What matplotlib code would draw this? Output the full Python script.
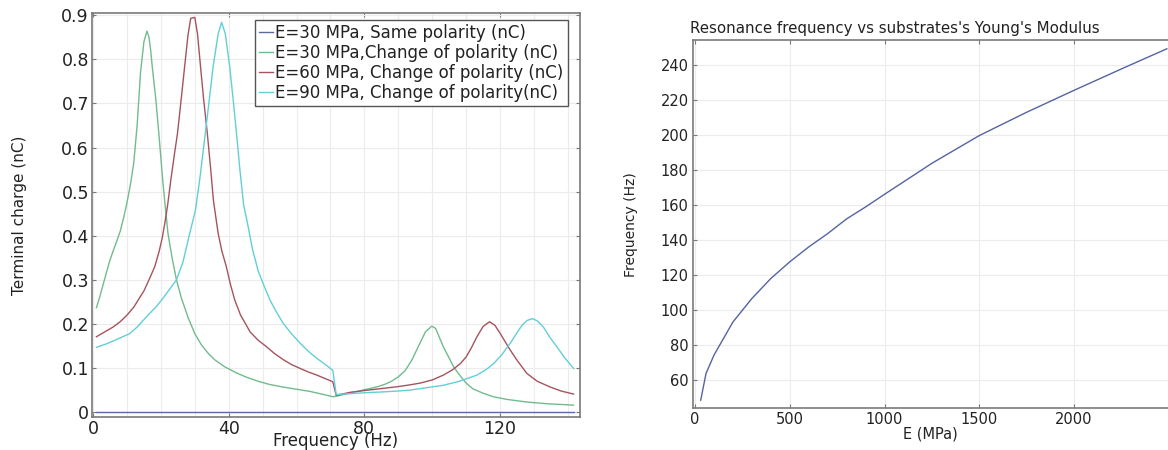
import matplotlib
matplotlib.use("Agg")
import matplotlib.pyplot as plt
from matplotlib.ticker import MultipleLocator

# ---------------- Data: left panel (Terminal charge vs frequency) ----------------
freq_same = [1, 141.7]
q_same = [0.0, 0.0]

freq_e30 = [1, 2, 3, 4, 5, 6, 7, 8, 9, 10, 11, 12, 13, 14, 15, 15.9, 16.5, 17, 17.5, 18.5,
            19.4, 20.5, 21.3, 22.1, 23.3, 24.6, 26, 28, 30, 32, 34, 36, 38.8, 42, 45, 48.7,
            52, 56, 60, 64, 68, 70.7,
            71.7, 74, 76, 78, 80, 82, 84, 86, 88, 90, 92, 94, 96, 98, 99.9, 101, 102, 103.3,
            105, 106.3, 108, 110, 112, 115, 118, 122, 127.9, 134, 141.7]
q_e30 = [0.237, 0.262, 0.29, 0.318, 0.345, 0.367, 0.388, 0.41, 0.44, 0.475, 0.515, 0.565,
         0.65, 0.77, 0.84, 0.864, 0.85, 0.82, 0.78, 0.71,
         0.632, 0.53, 0.465, 0.405, 0.35, 0.30, 0.26, 0.215, 0.178, 0.152, 0.133, 0.118,
         0.103, 0.09, 0.08, 0.07, 0.063, 0.057, 0.052, 0.047, 0.04, 0.035,
         0.036, 0.040, 0.044, 0.047, 0.051, 0.054, 0.058, 0.063, 0.07, 0.08, 0.094, 0.118,
         0.15, 0.182, 0.195, 0.19, 0.172, 0.148, 0.123, 0.103, 0.085, 0.066, 0.053, 0.043,
         0.035, 0.029, 0.023, 0.019, 0.016]

freq_e60 = [1, 3, 5.9, 8, 10, 12, 13.3, 15, 16.5, 18.2, 19.5, 20.4, 21.2, 22, 23, 24, 24.9,
            26, 27, 28, 28.8, 30, 30.8, 31.7, 32.6, 33.7, 34.7, 35.5, 36.9, 38, 39.3, 40.5,
            41.8, 43.5, 45, 46.3, 48.7, 51.2, 53.5, 56.1, 58.5, 61.1, 63.5, 66, 68.5, 70.7,
            71.7, 75.8, 80, 85.6, 90, 93.5, 96.5, 100, 103.3, 106, 108.3, 110, 111.5, 113.2,
            115, 116.9, 118.5, 120.1, 121.5, 123, 125, 127.9, 131, 134.8, 138, 141.7]
q_e60 = [0.171, 0.18, 0.193, 0.205, 0.22, 0.238, 0.254, 0.275, 0.3, 0.33, 0.365, 0.395,
         0.43, 0.47, 0.53, 0.585, 0.632, 0.71, 0.783, 0.855, 0.893, 0.895, 0.858, 0.783,
         0.71, 0.632, 0.55, 0.48, 0.405, 0.365, 0.33, 0.29, 0.254, 0.22, 0.2, 0.182, 0.163,
         0.148, 0.133, 0.119, 0.108, 0.099, 0.091, 0.084, 0.076, 0.069,
         0.038, 0.045, 0.049, 0.054, 0.058, 0.062, 0.066, 0.073, 0.084, 0.096, 0.11, 0.125,
         0.145, 0.171, 0.194, 0.205, 0.197, 0.178, 0.16, 0.141, 0.118, 0.088, 0.07, 0.057,
         0.048, 0.041]

freq_e90 = [1, 4, 7, 10.8, 13, 16.2, 18.5, 20.6, 22.5, 24.6, 26.5, 28.5, 30.2, 31.5, 33.1,
            34.3, 35.4, 36.9, 37.9, 39, 40.3, 41.3, 42.3, 43.3, 44.4, 45.5, 47, 48.7, 50.5,
            52.2, 54, 56.1, 58.5, 61.1, 63.5, 66, 68.5, 70.7,
            71.7, 75.8, 80, 85.6, 90, 93.5, 98, 103.3, 108, 113.2, 116, 118.1, 120.5, 123,
            125, 126.5, 128, 129.6, 131, 132.8, 134.5, 136.8, 139, 141.7]
q_e90 = [0.147, 0.155, 0.165, 0.178, 0.193, 0.22, 0.238, 0.258, 0.278, 0.30, 0.34, 0.405,
         0.458, 0.53, 0.632, 0.71, 0.783, 0.858, 0.884, 0.858, 0.783, 0.71, 0.632, 0.55,
         0.47, 0.43, 0.37, 0.32, 0.285, 0.254, 0.228, 0.201, 0.178, 0.156, 0.138, 0.122,
         0.108, 0.095,
         0.040, 0.042, 0.044, 0.046, 0.048, 0.050, 0.055, 0.061, 0.07, 0.084, 0.097, 0.110,
         0.13, 0.156, 0.18, 0.197, 0.208, 0.212, 0.207, 0.193, 0.172, 0.148, 0.124, 0.099]

series_labels = ["E=30 MPa, Same polarity (nC)",
                 "E=30 MPa,Change of polarity (nC)",
                 "E=60 MPa, Change of polarity (nC)",
                 "E=90 MPa, Change of polarity(nC)"]
series_colors = ["#5b6aa3", "#72bb8e", "#a5545e", "#62cfd6"]

left_xticks = [0, 40, 80, 120]
left_yticks = [0, 0.1, 0.2, 0.3, 0.4, 0.5, 0.6, 0.7, 0.8, 0.9]
left_yticklabels = ["0", "0.1", "0.2", "0.3", "0.4", "0.5", "0.6", "0.7", "0.8", "0.9"]

# ---------------- Data: right panel (resonance frequency vs E) ----------------
E_mpa = [30, 58, 100, 200, 300, 400, 500, 600, 700, 800, 900, 1000, 1250, 1500, 1750,
         2000, 2250, 2490]
f_res = [48.6, 63.8, 74.3, 93.2, 106.6, 118.0, 127.5, 136.0, 143.6, 152.0, 158.8, 166.0,
         183.7, 199.5, 212.8, 225.3, 237.5, 249.0]

right_xticks = [0, 500, 1000, 1500, 2000]
right_yticks = [60, 80, 100, 120, 140, 160, 180, 200, 220, 240]

# ---------------- Figure ----------------
plt.rcParams['font.family'] = ['DejaVu Sans']
txt = "#222222"
spine_c = "#7a7a7a"
grid_c = "#ececec"

fig = plt.figure(figsize=(11.68, 4.5), dpi=100)

# Left axes
ax1 = fig.add_axes([0.0785, 0.0733, 0.4181, 0.8978])
xs = [freq_same, freq_e30, freq_e60, freq_e90]
ys = [q_same, q_e30, q_e60, q_e90]
for x, y, lab, c in zip(xs, ys, series_labels, series_colors):
    ax1.plot(x, y, color=c, lw=1.0, label=lab)
ax1.set_xlim(-0.4, 143.6)
ax1.set_ylim(-0.011, 0.905)
ax1.set_xticks(left_xticks)
ax1.set_yticks(left_yticks)
ax1.set_yticklabels(left_yticklabels)
ax1.xaxis.set_minor_locator(MultipleLocator(10))
ax1.grid(True, which='major', color=grid_c, lw=0.8)
ax1.grid(True, which='minor', axis='x', color=grid_c, lw=0.8)
ax1.tick_params(which='both', direction='in', top=True, right=True, length=3,
                color=spine_c, labelsize=12.5, labelcolor=txt, pad=2)
ax1.tick_params(which='minor', length=0)
ax1.set_xlabel("Frequency (Hz)", fontsize=12, color=txt, labelpad=-4)
ax1.set_ylabel("Terminal charge (nC)", fontsize=11, color=txt, labelpad=25)
for s in ax1.spines.values():
    s.set_color(spine_c)
    s.set_linewidth(1.2)
leg = ax1.legend(loc='upper right', bbox_to_anchor=(0.985, 0.995), fontsize=12,
                 handlelength=0.8, handletextpad=0.15, borderpad=0.25,
                 labelspacing=0.12, fancybox=False, framealpha=1,
                 edgecolor="#555555", borderaxespad=0.3)
leg.get_frame().set_linewidth(1.0)
for t in leg.get_texts():
    t.set_color(txt)

# Right axes
ax2 = fig.add_axes([0.5931, 0.0927, 0.4069, 0.8184])
ax2.plot(E_mpa, f_res, color="#5463a3", lw=1.0)
ax2.set_xlim(-12, 2496)
ax2.set_ylim(44, 254)
ax2.set_xticks(right_xticks)
ax2.set_yticks(right_yticks)
ax2.grid(True, color=grid_c, lw=0.8)
ax2.tick_params(direction='in', top=True, right=False, length=3, color=spine_c,
                labelsize=10.5, labelcolor=txt, pad=3)
ax2.set_xlabel("E (MPa)", fontsize=10.5, color=txt, labelpad=-1)
ax2.set_ylabel("Frequency (Hz)", fontsize=10, color=txt, labelpad=16)
ax2.set_title("Resonance frequency vs substrates's Young's Modulus", loc='left',
              fontsize=10.8, color=txt, pad=5, x=-0.006)
for k, s in ax2.spines.items():
    s.set_color(spine_c)
    s.set_linewidth(1.2)
ax2.spines['right'].set_visible(False)

fig.savefig("out.png", dpi=100)
